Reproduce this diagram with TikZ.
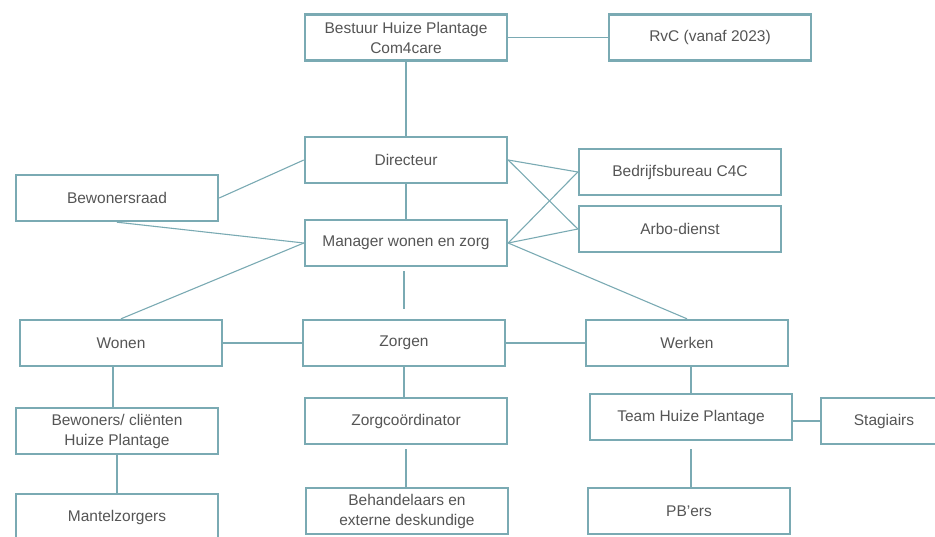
\documentclass[tikz,border=0pt]{standalone}
\usepackage{fontspec}
\setmainfont{Liberation Sans}
\usepackage{tikz}
\usetikzlibrary{positioning}
\definecolor{boxline}{HTML}{7AAAB3}
\definecolor{boxtext}{HTML}{555555}

\begin{document}
\begin{tikzpicture}[x=1pt,y=-1pt,
	orgbox/.style={rectangle,draw=boxline,line width=2.4pt,fill=white,text=boxtext,
		minimum width=202pt,minimum height=46pt,align=center,font=\fontsize{15.5}{20}\selectfont},
	link/.style={draw=boxline,line width=1.1pt}]
	\useasboundingbox (0,0) rectangle (935,536);
	\clip (0,0) rectangle (935,536);
	\begin{scope}[every node/.style={orgbox}]
		\node (best) at (406,37.5) {Bestuur Huize Plantage\\Com4care};
		\node (rvc) at (710,37.5) {RvC (vanaf 2023)};
		\node (dir) at (406,160) {Directeur};
		\node (braad) at (117,198) {Bewonersraad};
		\node (bbur) at (680,172) {Bedrijfsbureau C4C};
		\node (arbo) at (680,229) {Arbo-dienst};
		\node (man) at (406,243) {Manager wonen en zorg};
		\node (wonen) at (121,343) {Wonen};
		\node (zorgen) at (404,343) {Zorgen};
		\node (werken) at (687,343) {Werken};
		\node (bew) at (117,431) {Bewoners/ cliënten\\Huize Plantage};
		\node (zcoord) at (406,421) {Zorgcoördinator};
		\node (team) at (691,417) {Team Huize Plantage};
		\node[minimum width=126pt] (stag) at (884,421) {Stagiairs};
		\node (mantel) at (117,517) {Mantelzorgers};
		\node (behand) at (407,511) {Behandelaars en\\externe deskundige};
		\node (pbers) at (689,511) {PB’ers};
	\end{scope}

	\draw[link] (best) -- (rvc);
	\draw[link] (best) -- (dir);
	\draw[link] (dir) -- (man);
	\draw[link] (braad.east) -- (dir.west);
	\draw[link] (braad.south) -- (man.west);
	\draw[link] (man.west) -- (wonen.north);
	\draw[link] (man.east) -- (werken.north);
	\draw[link,shorten <=4pt,shorten >=10pt] (man.south -| zorgen.north) -- (zorgen.north);
	\draw[link] (dir.east) -- (bbur.west);
	\draw[link] (dir.east) -- (arbo.west);
	\draw[link] (man.east) -- (bbur.west);
	\draw[link] (man.east) -- (arbo.west);
	\draw[link] (wonen) -- (zorgen);
	\draw[link] (zorgen) -- (werken);
	\draw[link] ([xshift=-8pt]wonen.south) -- ([xshift=-4pt]bew.north);
	\draw[link] (zorgen.south) -- (zorgen.south |- zcoord.north);
	\draw[link] ([xshift=4pt]werken.south) -- (team.north);
	\draw[link] (team.east |- stag) -- (stag.west);
	\draw[link] (bew.south) -- (mantel.north);
	\draw[link,shorten <=4pt] (zcoord.south) -- (zcoord.south |- behand.north);
	\draw[link,shorten <=8pt] (team.south) -- (team.south |- pbers.north);
\end{tikzpicture}
\end{document}
